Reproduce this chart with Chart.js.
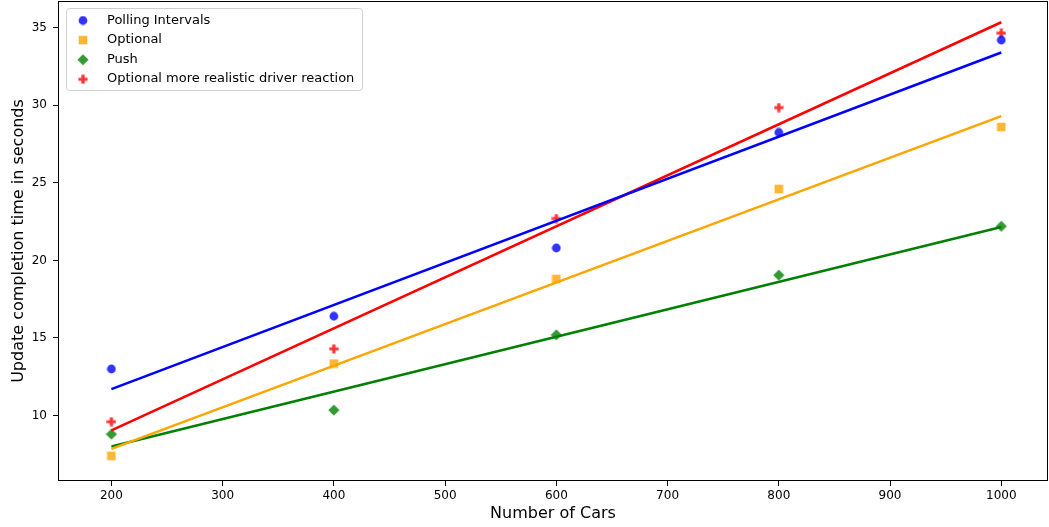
<!DOCTYPE html>
<html>
<head>
<meta charset="utf-8">
<script src="https://cdn.jsdelivr.net/npm/chart.js@4"></script>
<style>
  body { margin: 0; background: #fff; }
  canvas { display: block; }
</style>
</head>
<body>
<canvas id="chart" width="1049" height="527"></canvas>
<script>
// data
const cars = [200, 400, 600, 800, 1000];
const polling = [13.0, 16.4, 20.8, 28.25, 34.2];
const optional = [7.4, 13.35, 18.8, 24.6, 28.6];
const push = [8.8, 10.35, 15.2, 19.05, 22.2];
const realistic = [9.6, 14.3, 22.7, 29.85, 34.65];

// fitted trend lines, endpoints at x = 200 and x = 1000
const fitX = [200, 1000];
const pollingFit = [11.7, 33.4];
const optionalFit = [7.85, 29.3];
const pushFit = [8.0, 22.15];
const realisticFit = [9.05, 35.35];

const xTicks = [200, 300, 400, 500, 600, 700, 800, 900, 1000];
const yTicks = [10, 15, 20, 25, 30, 35];

const seriesNames = ['Polling Intervals', 'Optional', 'Push', 'Optional more realistic driver reaction'];

// marker images (matplotlib style, alpha 0.8)
function makeMarker(shape, color) {
    const s = shape === 'D' ? 12 : 10;
    const c = document.createElement('canvas');
    c.width = s; c.height = s;
    const g = c.getContext('2d');
    g.fillStyle = color;
    const m = s / 2;
    g.beginPath();
    if (shape === 'o') {
        g.arc(m, m, 4.4, 0, Math.PI * 2);
    } else if (shape === 's') {
        g.rect(m - 4.3, m - 4.3, 8.6, 8.6);
    } else if (shape === 'D') {
        g.moveTo(m, m - 5.6); g.lineTo(m + 5.6, m); g.lineTo(m, m + 5.6); g.lineTo(m - 5.6, m);
        g.closePath();
    } else if (shape === 'P') {
        const a = 4.6, t = 1.6;
        g.moveTo(m - t, m - a); g.lineTo(m + t, m - a); g.lineTo(m + t, m - t);
        g.lineTo(m + a, m - t); g.lineTo(m + a, m + t); g.lineTo(m + t, m + t);
        g.lineTo(m + t, m + a); g.lineTo(m - t, m + a); g.lineTo(m - t, m + t);
        g.lineTo(m - a, m + t); g.lineTo(m - a, m - t); g.lineTo(m - t, m - t);
        g.closePath();
    }
    g.fill();
    return c;
}

const markers = [
    makeMarker('o', 'rgba(0, 0, 255, 0.8)'),
    makeMarker('s', 'rgba(255, 165, 0, 0.8)'),
    makeMarker('D', 'rgba(0, 128, 0, 0.8)'),
    makeMarker('P', 'rgba(255, 0, 0, 0.8)')
];

function pts(xs, ys) {
    return xs.map((x, i) => ({ x: x, y: ys[i] }));
}

function scatterSet(i, ys) {
    return {
        label: seriesNames[i],
        data: pts(cars, ys),
        pointStyle: markers[i],
        pointRadius: 5,
        showLine: false,
        order: 10
    };
}

function lineSet(ys, color) {
    return {
        label: '',
        data: pts(fitX, ys),
        showLine: true,
        borderColor: color,
        borderWidth: 2.5,
        pointRadius: 0,
        fill: false,
        order: 1
    };
}

// legend box inside the plot, like matplotlib's upper-left legend
const innerLegend = {
    id: 'innerLegend',
    afterDraw(chart) {
        const ctx = chart.ctx;
        const area = chart.chartArea;
        ctx.save();
        // frame round the plot
        ctx.strokeStyle = '#000';
        ctx.lineWidth = 1;
        ctx.strokeRect(Math.round(area.left) + 0.5, Math.round(area.top) + 0.5,
            Math.round(area.right - area.left) - 1, Math.round(area.bottom - area.top) - 1);

        ctx.fillStyle = 'rgba(255,255,255,0.8)';
        ctx.strokeStyle = '#d0d0d0';
        ctx.beginPath();
        ctx.roundRect(66.5, 8.5, 296, 82, 3);
        ctx.fill();
        ctx.stroke();

        ctx.font = '13px "DejaVu Sans"';
        ctx.fillStyle = '#000';
        ctx.textBaseline = 'alphabetic';
        seriesNames.forEach((name, i) => {
            const my = 20.5 + i * 19.6;
            const img = markers[i];
            ctx.drawImage(img, 83 - img.width / 2, my - img.height / 2);
            ctx.fillText(name, 107, 24 + i * 19.4);
        });
        ctx.restore();
    }
};

new Chart(document.getElementById('chart'), {
    type: 'scatter',
    data: {
        datasets: [
            scatterSet(0, polling),
            scatterSet(1, optional),
            scatterSet(2, push),
            scatterSet(3, realistic),
            lineSet(pollingFit, 'blue'),
            lineSet(optionalFit, 'orange'),
            lineSet(pushFit, 'green'),
            lineSet(realisticFit, 'red')
        ]
    },
    options: {
        responsive: false,
        animation: false,
        layout: { autoPadding: false, padding: { left: 0, top: 1, right: 1, bottom: 0 } },
        plugins: {
            legend: { display: false },
            tooltip: { enabled: false }
        },
        scales: {
            x: {
                type: 'linear',
                min: 152,
                max: 1042,
                afterBuildTicks: scale => { scale.ticks = xTicks.map(v => ({ value: v })); },
                afterFit: scale => {
                    scale.height = 46;
                    scale.paddingLeft = 0;
                    scale.paddingRight = 0;
                },
                border: { display: false },
                grid: { drawOnChartArea: false, tickLength: 5, color: '#000' },
                ticks: {
                    color: '#000',
                    padding: 3,
                    maxRotation: 0,
                    callback: v => String(v),
                    font: { family: 'DejaVu Sans', size: 12 }
                },
                title: {
                    display: true,
                    text: 'Number of Cars',
                    color: '#000',
                    padding: { top: 0, bottom: 4 },
                    font: { family: 'DejaVu Sans', size: 16 }
                }
            },
            y: {
                min: 5.78,
                max: 36.72,
                afterBuildTicks: scale => { scale.ticks = yTicks.map(v => ({ value: v })); },
                afterFit: scale => {
                    scale.width = 58;
                    scale.paddingTop = 0;
                    scale.paddingBottom = 0;
                },
                border: { display: false },
                grid: { drawOnChartArea: false, tickLength: 5, color: '#000' },
                ticks: {
                    color: '#000',
                    padding: 6,
                    callback: v => String(v),
                    font: { family: 'DejaVu Sans', size: 12 }
                },
                title: {
                    display: true,
                    text: 'Update completion time in seconds',
                    color: '#000',
                    padding: { top: 9, bottom: 0 },
                    font: { family: 'DejaVu Sans', size: 16 }
                }
            }
        }
    },
    plugins: [innerLegend]
});
</script>
</body>
</html>
